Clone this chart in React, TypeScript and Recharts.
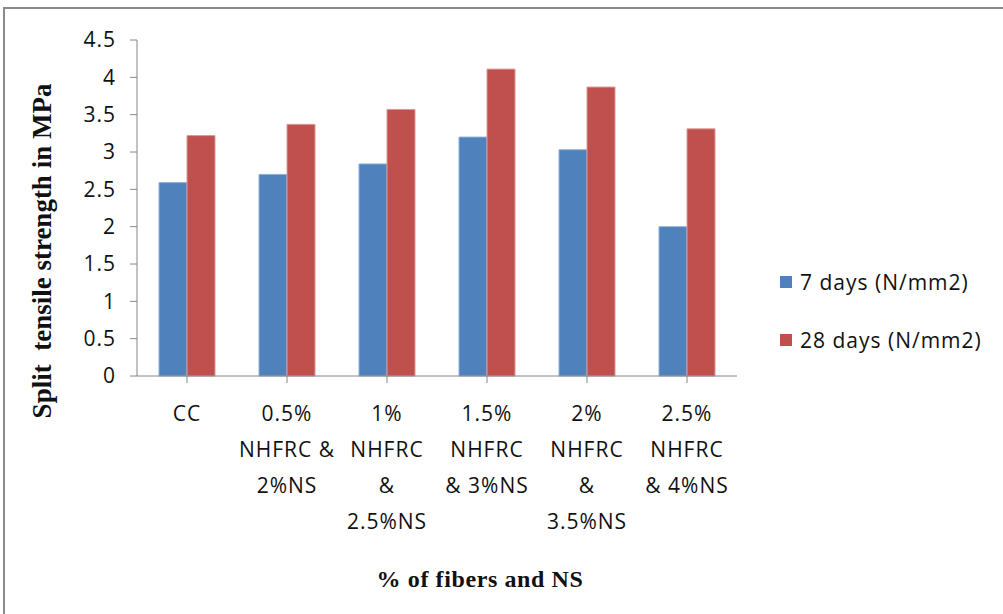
import React from "react";
import { BarChart, Bar, XAxis, YAxis, Legend } from "recharts";

const categories = [
  "CC",
  "0.5%|NHFRC &|2%NS",
  "1%|NHFRC|&|2.5%NS",
  "1.5%|NHFRC|& 3%NS",
  "2%|NHFRC|&|3.5%NS",
  "2.5%|NHFRC|& 4%NS",
];
const days7 = [2.59, 2.7, 2.84, 3.2, 3.03, 2.0];
const days28 = [3.22, 3.37, 3.57, 4.11, 3.87, 3.31];
const yTicks = [0, 0.5, 1, 1.5, 2, 2.5, 3, 3.5, 4, 4.5];
const seriesNames = ["7 days (N/mm2)", "28 days (N/mm2)"];
const colors = ["#4F81BD", "#C0504D"];

const data = categories.map((c, i) => ({ cat: c, d7: days7[i], d28: days28[i] }));

const SANS = "'Open Sans', sans-serif";
const SERIF = "'Liberation Serif', 'Times New Roman', serif";

const XTick = (props: any) => {
  const { x, y, payload } = props;
  const lines = String(payload.value).split("|");
  return (
    <g>
      {lines.map((l, i) => (
        <text
          key={i}
          x={x}
          y={y + 36 + i * 36}
          textAnchor="middle"
          fontFamily={SANS}
          fontSize={21}
          letterSpacing={1}
          fill="#111"
        >
          {l}
        </text>
      ))}
    </g>
  );
};

const LegendContent = (props: any) => {
  const payload = [...(props.payload || [])].sort(
    (a: any, b: any) => seriesNames.indexOf(a.value) - seriesNames.indexOf(b.value)
  );
  return (
    <div style={{ fontFamily: SANS, fontSize: 21, letterSpacing: 1, color: "#111" }}>
      {payload.map((p: any, i: number) => (
        <div key={i} style={{ display: "flex", alignItems: "center", height: 58 }}>
          <span style={{ display: "inline-block", width: 12, height: 12, background: p.color, marginRight: 8 }} />
          <span>{p.value}</span>
        </div>
      ))}
    </div>
  );
};

export default function App() {
  return (
    <div style={{ position: "absolute", left: 0, top: 0, width: 1003, height: 614, overflow: "hidden", background: "#fff" }}>
      <div
        style={{
          position: "absolute",
          left: 3,
          top: 7,
          width: 1020,
          height: 640,
          border: "2px solid #8a8a8a",
          boxSizing: "border-box",
        }}
      />
      <div style={{ position: "absolute", left: 0, top: 0 }}>
        <BarChart
          width={1003}
          height={614}
          data={data}
          margin={{ top: 40, right: 266, left: 77, bottom: 178 }}
          barCategoryGap="22%"
          barGap={0}
        >
          <XAxis
            dataKey="cat"
            height={60}
            stroke="#868686"
            tickLine={{ stroke: "#868686" }}
            tickSize={7}
            tick={<XTick />}
            interval={0}
          />
          <YAxis
            width={60}
            domain={[0, 4.5]}
            ticks={yTicks}
            stroke="#868686"
            tickLine={{ stroke: "#868686" }}
            tickSize={7}
            tickMargin={14}
            interval={0}
            tick={{ fontFamily: SANS, fontSize: 21, fill: "#111", letterSpacing: 1 }}
          />
          <Legend
            layout="vertical"
            verticalAlign="middle"
            align="center"
            content={<LegendContent />}
            wrapperStyle={{ left: 780, top: 253, width: 220 }}
          />
          <Bar dataKey="d7" name={seriesNames[0]} fill={colors[0]} stroke="#8fb0d8" strokeWidth={1} isAnimationActive={false} />
          <Bar dataKey="d28" name={seriesNames[1]} fill={colors[1]} stroke="#d99a98" strokeWidth={1} isAnimationActive={false} />
          <text
            x={42}
            y={251}
            transform="rotate(-90 42 251)"
            textAnchor="middle"
            dominantBaseline="central"
            fontFamily={SERIF}
            fontWeight="bold"
            fontSize={27}
            fill="#111"
            style={{ whiteSpace: "pre" }}
          >
            {"Split  tensile strength in MPa"}
          </text>
          <text
            x={480}
            y={587}
            textAnchor="middle"
            fontFamily={SERIF}
            fontWeight="bold"
            fontSize={24}
            letterSpacing={0.6}
            fill="#111"
          >
            % of fibers and NS
          </text>
        </BarChart>
      </div>
    </div>
  );
}
